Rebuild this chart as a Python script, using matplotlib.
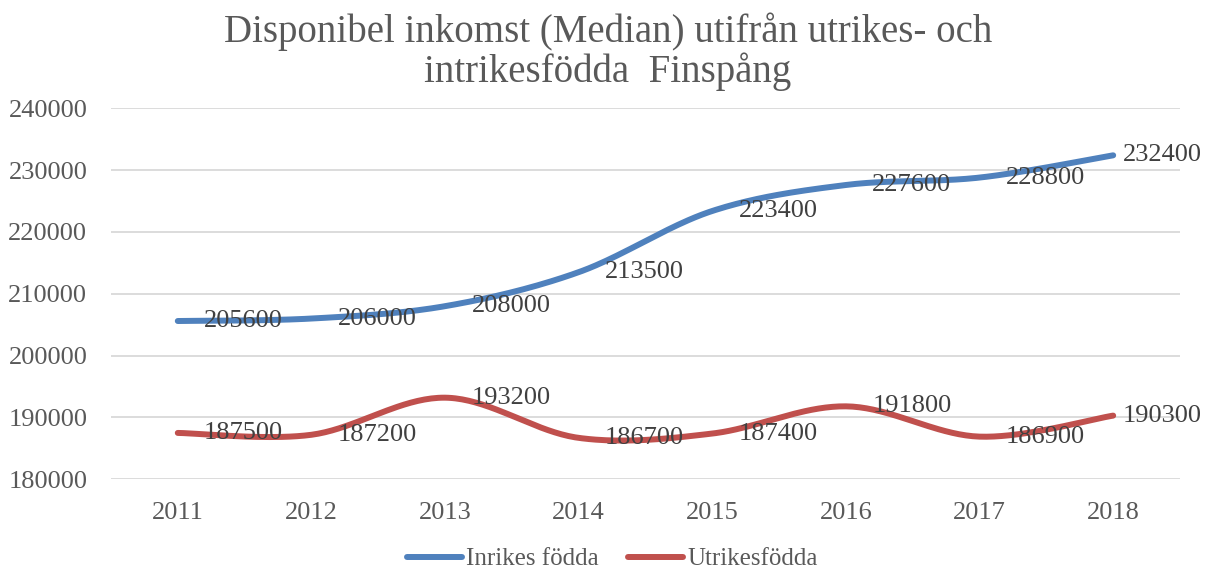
import matplotlib.pyplot as plt
import numpy as np

years = [2011, 2012, 2013, 2014, 2015, 2016, 2017, 2018]
inrikes = [205600, 206000, 208000, 213500, 223400, 227600, 228800, 232400]
utrikes = [187500, 187200, 193200, 186700, 187400, 191800, 186900, 190300]


def smooth(xs, ys, n=40):
    # Excel-like smoothed line (Catmull-Rom bezier segments)
    x = np.array(xs, dtype=float)
    y = np.array(ys, dtype=float)
    px = np.concatenate([[x[0]], x, [x[-1]]])
    py = np.concatenate([[y[0]], y, [y[-1]]])
    out_x, out_y = [], []
    t = np.linspace(0, 1, n)
    for i in range(1, len(px) - 2):
        p0 = np.array([px[i], py[i]])
        p3 = np.array([px[i + 1], py[i + 1]])
        c1 = p0 + (p3 - np.array([px[i - 1], py[i - 1]])) / 6
        c2 = p3 - (np.array([px[i + 2], py[i + 2]]) - p0) / 6
        b = (np.outer((1 - t) ** 3, p0) + np.outer(3 * (1 - t) ** 2 * t, c1)
             + np.outer(3 * (1 - t) * t ** 2, c2) + np.outer(t ** 3, p3))
        out_x.extend(b[:, 0])
        out_y.extend(b[:, 1])
    return out_x, out_y


plt.rcParams['font.family'] = ['Liberation Serif', 'DejaVu Serif']

fig = plt.figure(figsize=(12.18, 5.71), dpi=100)
ax = fig.add_axes([0.0911, 0.1606, 0.8777, 0.6497])

idx = list(range(len(years)))
blue = '#4f81bd'
red = '#c0504d'

sx, sy = smooth(idx, inrikes)
ax.plot(sx, sy, color=blue, lw=4.3, solid_capstyle='round', label='Inrikes födda')
sx, sy = smooth(idx, utrikes)
ax.plot(sx, sy, color=red, lw=4.3, solid_capstyle='round', label='Utrikesfödda')

for i in idx:
    # last label is pulled in so it fits inside the chart
    off = 7 if i == idx[-1] else 19
    for vals in (inrikes, utrikes):
        ax.annotate(str(vals[i]), (i, vals[i]), xytext=(off, 0), textcoords='offset points',
                    ha='left', va='center', fontsize=19, color='#404040',
                    annotation_clip=False)

ax.set_xlim(-0.5, len(years) - 0.5)
ax.set_ylim(180000, 240000)
ax.set_yticks(range(180000, 240001, 10000))
ax.set_xticks(idx)
ax.set_xticklabels([str(y) for y in years])
ax.tick_params(axis='both', length=0, labelsize=19, colors='#595959')
ax.tick_params(axis='x', pad=16)
ax.tick_params(axis='y', pad=17)
ax.grid(axis='y', color='#d9d9d9', lw=1.3)
ax.set_axisbelow(True)
for s in ax.spines.values():
    s.set_visible(False)

fig.text(0.499, 0.91, 'Disponibel inkomst (Median) utifrån utrikes- och\nintrikesfödda  Finspång',
         ha='center', va='center', fontsize=28, color='#595959', linespacing=1.05)

ax.legend(loc='center', bbox_to_anchor=(0.469, -0.215), ncol=2, frameon=False,
          fontsize=18, labelcolor='#595959', handlelength=2.2, handletextpad=0.15,
          columnspacing=1.2)

fig.savefig('out.png')
